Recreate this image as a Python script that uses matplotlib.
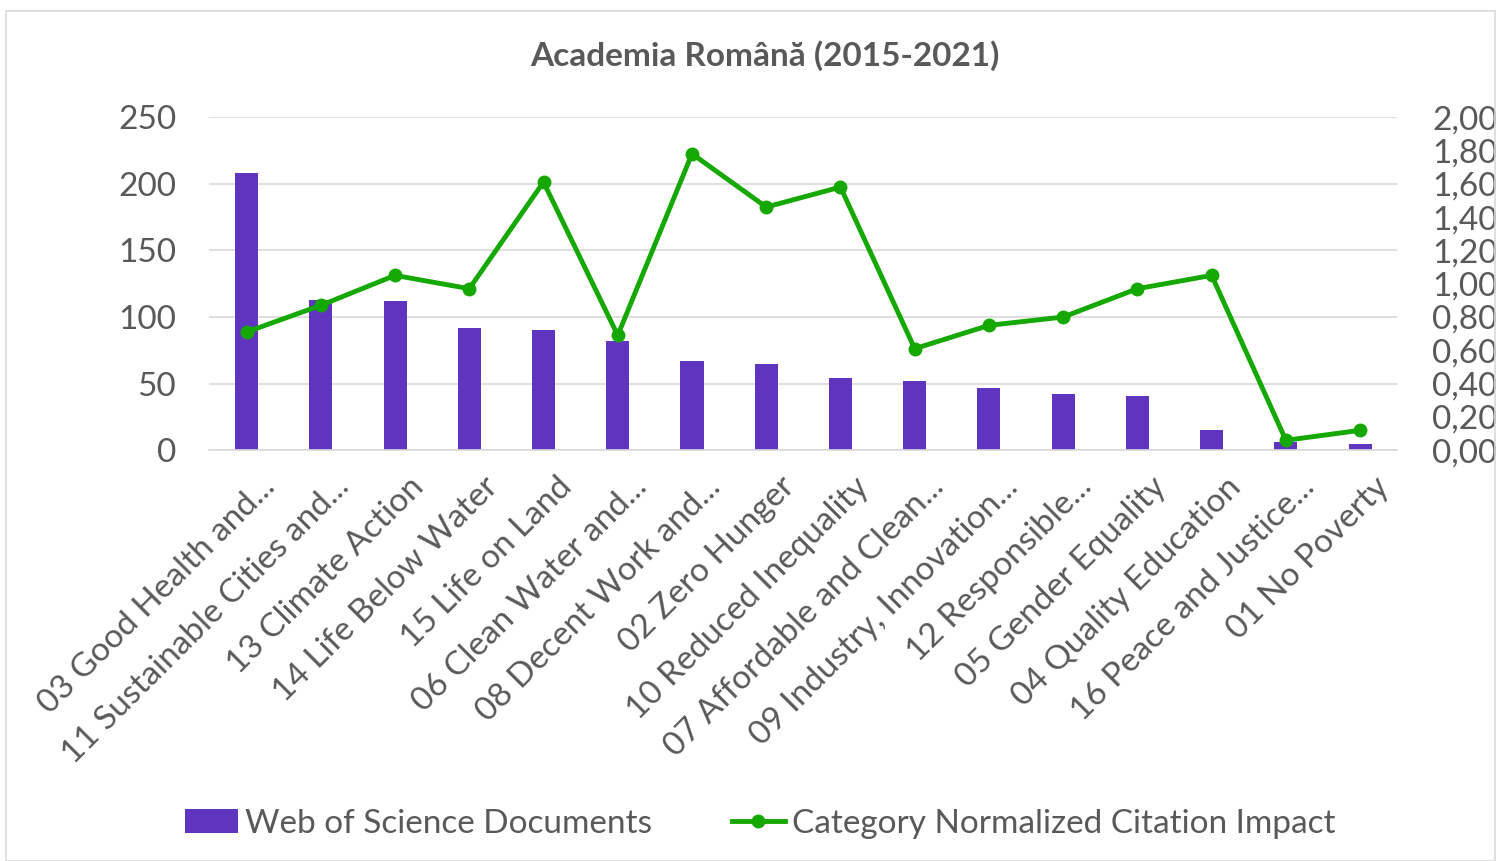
import numpy as np
import matplotlib.pyplot as plt
from matplotlib.ticker import FuncFormatter
from matplotlib.patches import Rectangle
from matplotlib.transforms import ScaledTranslation

categories = [
    "03 Good Health and...", "11 Sustainable Cities and...", "13 Climate Action",
    "14 Life Below Water", "15 Life on Land", "06 Clean Water and...",
    "08 Decent Work and...", "02 Zero Hunger", "10 Reduced Inequality",
    "07 Affordable and Clean...", "09 Industry, Innovation...", "12 Responsible...",
    "05 Gender Equality", "04 Quality Education", "16 Peace and Justice...",
    "01 No Poverty",
]
documents = [208, 113, 112, 92, 90, 82, 67, 65, 54, 52, 47, 42, 41, 15, 6, 5]
cnci = [0.71, 0.87, 1.05, 0.97, 1.61, 0.69, 1.78, 1.46, 1.58, 0.61, 0.75, 0.80,
        0.97, 1.05, 0.06, 0.12]

plt.rcParams['font.family'] = ['Lato', 'DejaVu Sans']
grey = '#595959'
purple = '#5f35c0'
green = '#14a800'

fig = plt.figure(figsize=(14.96, 8.61), dpi=100)
fig.patches.append(Rectangle((0.004, 0.0), 0.995, 0.987, transform=fig.transFigure,
                             fill=False, edgecolor='#d9d9d9', linewidth=1.2))
ax = fig.add_axes([0.140, 0.477, 0.794, 0.387])
ax2 = ax.twinx()

x = np.arange(len(categories))
bars = ax.bar(x, documents, width=0.31, color=purple, zorder=2,
              label='Web of Science Documents')
line, = ax2.plot(x, cnci, color=green, linewidth=3.5, marker='o', markersize=9,
                 label='Category Normalized Citation Impact', zorder=3)

ax.set_xlim(-0.5, len(categories) - 0.5)
ax.set_ylim(0, 250)
ax.set_yticks(range(0, 251, 50))
ax2.set_ylim(0, 2.0)
ax2.set_yticks(np.arange(0, 2.01, 0.2))
ax2.yaxis.set_major_formatter(FuncFormatter(lambda v, p: f"{v:.2f}".replace('.', ',')))

ax.grid(axis='y', color='#d9d9d9', linewidth=1.2, zorder=0)
ax.set_axisbelow(True)
for a in (ax, ax2):
    for s in a.spines.values():
        s.set_visible(False)
    a.tick_params(length=0, labelsize=24, colors=grey)
ax.spines['bottom'].set_visible(True)
ax.spines['bottom'].set_color('#d9d9d9')
ax.spines['bottom'].set_linewidth(1.2)
ax.tick_params(axis='y', pad=24)
ax2.tick_params(axis='y', pad=25)

ax.set_xticks(x)
ax.set_xticklabels(categories, rotation=45, ha='right', va='center',
                   rotation_mode='anchor', fontsize=24, color=grey)
ax.tick_params(axis='x', pad=23)
shift = ScaledTranslation(24 / 100, 0, fig.dpi_scale_trans)
for lbl in ax.get_xticklabels():
    lbl.set_transform(lbl.get_transform() + shift)

fig.text(0.511, 0.935, "Academia Română (2015-2021)", ha='center', va='center',
         fontsize=24, fontweight='bold', color=grey)

fig.legend(handles=[bars, line], loc='lower center', bbox_to_anchor=(0.508, -0.009),
           ncol=2, frameon=False, fontsize=24, labelcolor=grey,
           handlelength=1.6, handletextpad=0.2, columnspacing=2.4)

fig.savefig('out.png', dpi=100, facecolor='white')
